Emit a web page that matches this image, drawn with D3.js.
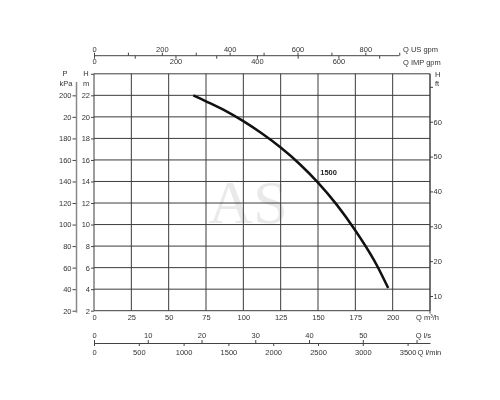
<!DOCTYPE html>
<html>
<head>
<meta charset="utf-8">
<script src="https://cdn.jsdelivr.net/npm/d3@7"></script>
<style>
  body { margin: 0; background: #fff; }
  svg { will-change: transform; }
  text { font-family: "Liberation Sans", Arial, sans-serif; fill: #333; }
</style>
</head>
<body>
<div id="chart"></div>
<script>
// pump curve 1500 (Q in m3/h, H in m)
const flowQ = [66.5, 75, 87.5, 100, 112.5, 125, 137.5, 150, 162.5, 175, 187.5, 197]
const headH = [22.0, 21.45, 20.6, 19.6, 18.45, 17.15, 15.65, 13.9, 11.85, 9.45, 6.7, 4.1]
const curveName = "1500"

const qTicks = [0, 25, 50, 75, 100, 125, 150, 175, 200]
const hTicks = [2, 4, 6, 8, 10, 12, 14, 16, 18, 20, 22]
const kpaLabels = ["20", "40", "60", "80", "100", "120", "140", "160", "180", "20", "200"]
const ftTicks = [10, 20, 30, 40, 50, 60, 70]
const usTicks = [0, 100, 200, 300, 400, 500, 600, 700, 800, 900]
const impTicks = [0, 100, 200, 300, 400, 500, 600, 700]
const lsTicks = [0, 10, 20, 30, 40, 50, 60]
const lminTicks = [0, 500, 1000, 1500, 2000, 2500, 3000, 3500]

const width = 500
const height = 400
const pLeft = 94, pRight = 430, pTop = 73.8, pBottom = 310.7

const x = d3.scaleLinear().domain([0, 225]).range([pLeft, pRight])
const y = d3.scaleLinear().domain([2, 24]).range([pBottom, pTop])
const yFt = d3.scaleLinear().domain([10, 60]).range([296, 121.7])

// other flow units on the same x positions
const xUS = d3.scaleLinear().domain([0, 225 * 4.403]).range([pLeft, pRight])
const xIMP = d3.scaleLinear().domain([0, 225 * 3.666]).range([pLeft, pRight])
const xLs = d3.scaleLinear().domain([0, 225 / 3.6]).range([pLeft, pRight])
const xLmin = d3.scaleLinear().domain([0, 225 / 0.06]).range([pLeft, pRight])

const svg = d3.select("#chart").append("svg")
  .attr("width", width)
  .attr("height", height)

const fs = "7.5px"
const plain = d => String(d)

// watermark
svg.append("text")
  .attr("x", 248).attr("y", 223)
  .attr("text-anchor", "middle")
  .style("font-family", "'Liberation Serif', 'DejaVu Serif', serif")
  .style("font-size", "62px")
  .style("fill", "#e9e9e9")
  .text("AS")

// grid
const grid = svg.append("g").attr("stroke", "#3c3c3c").attr("stroke-width", 1)
grid.selectAll(".v").data(qTicks.concat([225]))
  .join("line")
  .attr("class", "v")
  .attr("x1", d => x(d)).attr("x2", d => x(d))
  .attr("y1", pTop).attr("y2", pBottom)
grid.selectAll(".h").data(hTicks.concat([24]))
  .join("line")
  .attr("class", "h")
  .attr("x1", pLeft).attr("x2", pRight)
  .attr("y1", d => y(d)).attr("y2", d => y(d))

function style(g) {
  g.selectAll("text").style("font-size", fs).style("fill", "#333")
  g.selectAll("line, path").attr("stroke", "#444")
}

// bottom m3/h labels
svg.append("g")
  .attr("transform", `translate(0 ${pBottom})`)
  .call(d3.axisBottom(x).tickValues(qTicks).tickSize(0).tickPadding(3.6).tickFormat(plain))
  .call(g => g.select(".domain").remove())
  .call(style)

// left m axis
svg.append("g")
  .attr("transform", `translate(${pLeft} 0)`)
  .call(d3.axisLeft(y).tickValues(hTicks.concat([24])).tickSize(3).tickPadding(1)
    .tickFormat(d => d === 24 ? "" : plain(d)))
  .call(g => g.select(".domain").remove())
  .call(style)

// kPa axis
const kpaX = 76.5
svg.append("g")
  .attr("transform", `translate(${kpaX} 0)`)
  .call(d3.axisLeft(y).tickValues(hTicks).tickSize(4).tickPadding(1)
    .tickFormat((d, i) => kpaLabels[i]))
  .call(g => g.select(".domain").remove())
  .call(style)
svg.append("line")
  .attr("x1", kpaX).attr("x2", kpaX)
  .attr("y1", 82).attr("y2", pBottom + 2)
  .attr("stroke", "#888").attr("stroke-width", 1.5)

// ft axis
svg.append("g")
  .attr("transform", `translate(${pRight} 0)`)
  .call(d3.axisRight(yFt).tickValues(ftTicks).tickSize(3).tickPadding(0.5)
    .tickFormat(d => d === 70 ? "" : plain(d)))
  .call(g => g.select(".domain").remove())
  .call(style)
svg.append("line")
  .attr("x1", pRight).attr("x2", pRight)
  .attr("y1", pTop).attr("y2", pBottom + 3)
  .attr("stroke", "#444")

// top axes
const topY = 55.7
svg.append("g")
  .attr("transform", `translate(0 ${topY})`)
  .call(d3.axisTop(xUS).tickValues(usTicks).tickSize(3).tickPadding(1).tickSizeOuter(0)
    .tickFormat(d => d % 200 === 0 ? plain(d) : ""))
  .call(g => g.select(".domain").attr("d", `M${xUS(0)},0H${xUS(900)}`))
  .call(style)
svg.append("g")
  .attr("transform", `translate(0 ${topY})`)
  .call(d3.axisBottom(xIMP).tickValues(impTicks).tickSize(3).tickPadding(0.3)
    .tickFormat(d => d % 200 === 0 ? plain(d) : ""))
  .call(g => g.select(".domain").remove())
  .call(style)

// bottom flow axes
const botY = 343
svg.append("g")
  .attr("transform", `translate(0 ${botY})`)
  .call(d3.axisTop(xLs).tickValues(lsTicks).tickSize(3).tickPadding(2).tickSizeOuter(0)
    .tickFormat(d => d === 60 ? "" : plain(d)))
  .call(style)
svg.append("g")
  .attr("transform", `translate(0 ${botY})`)
  .call(d3.axisBottom(xLmin).tickValues(lminTicks).tickSize(3).tickPadding(3.7).tickFormat(plain))
  .call(g => g.select(".domain").remove())
  .call(style)

// unit labels
const units = [
  ["P", 65, 76, "middle"], ["kPa", 66, 86, "middle"],
  ["H", 86, 76, "middle"], ["m", 86, 86, "middle"],
  ["H", 435, 77, "start"], ["ft", 435, 86, "start"],
  ["Q US gpm", 403, 51.7, "start"], ["Q IMP gpm", 403, 64.5, "start"],
  ["Q m³/h", 416, 320, "start"], ["Q l/s", 415.7, 338, "start"],
  ["Q l/min", 417.5, 355, "start"]
]
svg.append("g").selectAll("text").data(units)
  .join("text")
  .attr("x", d => d[1]).attr("y", d => d[2])
  .attr("text-anchor", d => d[3])
  .style("font-size", fs)
  .text(d => d[0])

// pump curve
const pts = flowQ.map((q, i) => [q, headH[i]])
svg.append("path")
  .datum(pts)
  .attr("fill", "none")
  .attr("stroke", "#111")
  .attr("stroke-width", 2.5)
  .attr("d", d3.line().x(d => x(d[0])).y(d => y(d[1])).curve(d3.curveCatmullRom))

svg.append("text")
  .attr("x", x(151.5)).attr("y", y(14.6))
  .style("font-size", "7.5px")
  .style("font-weight", "bold")
  .style("fill", "#222")
  .text(curveName)
</script>
</body>
</html>
